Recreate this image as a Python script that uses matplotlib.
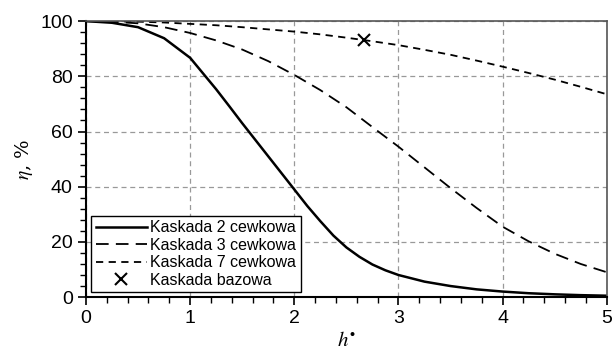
import matplotlib
matplotlib.use("Agg")
import matplotlib.pyplot as plt
from matplotlib.ticker import MultipleLocator

# values
h_2 = [0, 0.25, 0.5, 0.75, 1, 1.125, 1.25, 1.375, 1.5, 1.625, 1.75, 1.875,
       2, 2.125, 2.25, 2.375, 2.5, 2.625, 2.75, 2.875, 3, 3.25, 3.5,
       3.75, 4, 4.25, 4.5, 4.75, 5]
eta_2 = [100, 99.4, 97.8, 93.8, 86.7, 81, 75.3, 69.2, 63, 57, 51, 45,
         39, 33, 27.5, 22.3, 18, 14.6, 11.8, 9.7, 8, 5.6, 4,
         2.8, 2, 1.4, 1, 0.7, 0.5]

h = [0, 0.25, 0.5, 0.75, 1, 1.25, 1.5, 1.75, 2, 2.25, 2.5,
     2.75, 3, 3.25, 3.5, 3.75, 4, 4.25, 4.5, 4.75, 5]
eta_3 = [100, 99.8, 99.2, 97.8, 95.7, 93, 89.7, 85.5, 80.5, 75, 68.8,
         61.6, 54.5, 47, 39.5, 32.3, 25.5, 20.2, 15.7, 12, 9]
eta_7 = [100, 99.95, 99.8, 99.5, 99, 98.5, 97.8, 97, 96.2, 95.2, 94,
         92.7, 91.3, 89.6, 87.8, 85.7, 83.5, 81.2, 78.8, 76.2, 73.5]
base_h = [2.67]
base_eta = [93]

labels = ["Kaskada 2 cewkowa", "Kaskada 3 cewkowa",
          "Kaskada 7 cewkowa", "Kaskada bazowa"]

plt.rcParams["font.family"] = ["Liberation Sans", "DejaVu Sans"]
plt.rcParams["mathtext.fontset"] = "stix"

fig = plt.figure(figsize=(6.12, 3.52), dpi=100)
ax = fig.add_axes([0.1405, 0.156, 0.851, 0.784])

ax.plot(h_2, eta_2, color="black", lw=1.8, label=labels[0])
ax.plot(h, eta_3, color="black", lw=1.3, dashes=(7, 4), label=labels[1])
ax.plot(h, eta_7, color="black", lw=1.3, dashes=(4, 3), label=labels[2])
ax.plot(base_h, base_eta, ls="none", marker="x", ms=9, mew=1.5,
        color="black", label=labels[3])

ax.set_xlim(0, 5)
ax.set_ylim(0, 100)
ax.xaxis.set_major_locator(MultipleLocator(1))
ax.xaxis.set_minor_locator(MultipleLocator(0.2))
ax.yaxis.set_major_locator(MultipleLocator(20))
ax.yaxis.set_minor_locator(MultipleLocator(4))
ax.tick_params(which="major", length=6, width=1.2, labelsize=14, direction="out")
ax.tick_params(which="minor", length=4, width=1.0, direction="out")
ax.grid(True, which="major", color="#999999", ls=(0, (4, 3)), lw=0.9)

for side in ("left", "bottom"):
    ax.spines[side].set_color("black")
    ax.spines[side].set_linewidth(1.5)
for side in ("top", "right"):
    ax.spines[side].set_color("#555555")
    ax.spines[side].set_linewidth(1.2)

ax.set_xlabel(r"$h^{\bullet}$", fontsize=15, labelpad=3)
ax.set_ylabel(r"$\eta$, %", fontsize=14, family="serif", labelpad=4)

leg = ax.legend(loc="lower left", fontsize=11.5, frameon=True, fancybox=False,
                edgecolor="black", framealpha=1, borderpad=0.3,
                labelspacing=0.15, handlelength=3.2, handletextpad=0.2,
                borderaxespad=0.3)
leg.get_frame().set_linewidth(1.0)

fig.savefig("out.png", dpi=100, facecolor="white")
